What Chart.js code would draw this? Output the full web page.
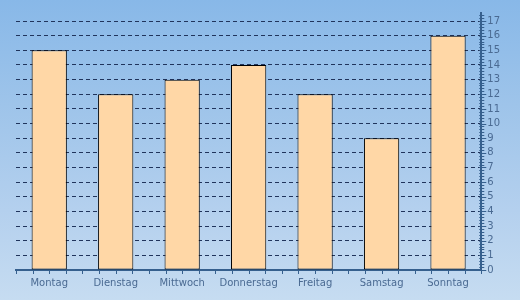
<!DOCTYPE html>
<html>
<head>
<meta charset="utf-8">
<script src="https://cdn.jsdelivr.net/npm/chart.js@4/dist/chart.umd.min.js"></script>
<style>
  html, body { margin: 0; padding: 0; }
  #wrap {
    width: 520px; height: 300px;
    background: linear-gradient(to bottom, #88b8e8 0%, #9ec4ea 35%, #b4d0ee 70%, #c6dcf1 100%);
  }
</style>
</head>
<body>
<div id="wrap"><canvas id="chart" width="520" height="300"></canvas></div>
<script>
var days = ["Montag","Dienstag","Mittwoch","Donnerstag","Freitag","Samstag","Sonntag"];
var values = [15,12,13,14,12,9,16];
var yTicks = [0,1,2,3,4,5,6,7,8,9,10,11,12,13,14,15,16,17];

var axisColor = "#36608e";
var labelColor = "#4a6a92";

// minor / major tick marks on both axes
var tickMarks = {
  id: 'tickMarks',
  afterDraw: function (chart) {
    var ctx = chart.ctx;
    var y = chart.scales.y, x = chart.scales.x;
    var ax = y.left;
    ctx.save();
    ctx.strokeStyle = axisColor;
    ctx.lineWidth = 1;
    ctx.beginPath();
    for (var v = 0; v <= 17.41; v += 0.2) {
      var py = Math.round(y.getPixelForValue(v)) + 0.5;
      var major = Math.abs(v - Math.round(v)) < 0.01;
      ctx.moveTo(ax - 2, py);
      ctx.lineTo(ax + (major ? 5 : 3), py);
    }
    var n = days.length;
    for (var i = 0; i <= n * 4; i++) {
      var px = Math.round(x.getPixelForValue(-0.5 + i / 4)) + 0.5;
      ctx.moveTo(px, x.top);
      ctx.lineTo(px, x.top + 4);
    }
    ctx.stroke();
    ctx.restore();
  }
};

new Chart(document.getElementById('chart').getContext('2d'), {
  type: 'bar',
  data: {
    labels: days,
    datasets: [{
      data: values,
      backgroundColor: "#ffd7a6",
      borderColor: "#000000",
      borderWidth: 1,
      borderSkipped: false,
      categoryPercentage: 1,
      barPercentage: 0.53
    }]
  },
  options: {
    responsive: false,
    animation: false,
    layout: { padding: { left: 16, right: 14, top: 13, bottom: 4 } },
    plugins: {
      legend: { display: false },
      tooltip: { enabled: false }
    },
    scales: {
      x: {
        offset: true,
        grid: { display: false, drawTicks: false },
        border: { display: true, color: axisColor, width: 2 },
        ticks: {
          color: labelColor,
          font: { family: "DejaVu Sans", size: 10 },
          padding: 7,
          maxRotation: 0
        }
      },
      y: {
        position: 'right',
        min: 0,
        max: 17.55,
        afterBuildTicks: function (axis) {
          axis.ticks = yTicks.map(function (v) { return { value: v }; });
        },
        ticks: {
          color: labelColor,
          font: { family: "DejaVu Sans", size: 10 },
          padding: 6
        },
        grid: {
          color: "#20345c",
          drawTicks: false,
          tickLength: 0
        },
        border: { display: true, color: axisColor, width: 2, dash: [4, 3] }
      }
    }
  },
  plugins: [tickMarks]
});
</script>
</body>
</html>
